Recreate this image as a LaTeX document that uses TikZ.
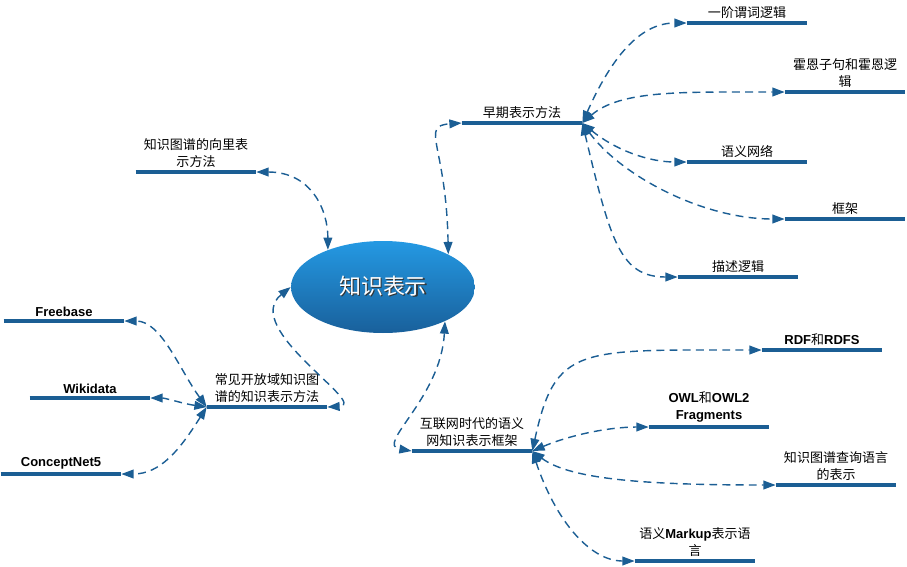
\documentclass[tikz,border=0pt]{standalone}
\usepackage{fontspec}
\setmainfont{Noto Sans CJK SC}
\newfontfamily\latin{Liberation Sans}
\usetikzlibrary{arrows.meta,shapes.geometric}
\definecolor{kblue}{RGB}{27,94,148}
\definecolor{ktop}{RGB}{36,153,227}
\definecolor{kbottom}{RGB}{25,96,155}
\newcommand{\en}[1]{{\latin\bfseries #1}}
\newcommand{\shadowed}[1]{\rlap{\hspace{0.7pt}\raisebox{-0.7pt}{\color{black!80}#1}}#1}
\tikzstyle{bar}=[draw=kblue,line width=2.3pt]
\tikzstyle{topic}=[anchor=south,minimum width=2.4cm,inner xsep=0pt,inner ysep=2.3pt,align=center,font=\fontsize{7.4}{9.6}\selectfont,append after command={(\tikzlastnode.south west) edge[bar] (\tikzlastnode.south east)}]
\tikzstyle{link}=[draw=kblue,line width=0.8pt,dash pattern=on 4.5pt off 3pt,<->]
\tikzstyle{root}=[ellipse,minimum width=3.68cm,minimum height=1.84cm,inner sep=0pt,top color=ktop,bottom color=kbottom,text=white,font=\fontsize{12.5}{14}\selectfont]

\begin{document}
\begin{tikzpicture}[x=0.02cm,y=-0.02cm,>={Triangle[length=7pt,width=5pt]}]
\useasboundingbox (0,0) rectangle (907,566);
\node[root] (root) at (383,287) {\shadowed{知识表示}};
\node[topic] (early) at (522,123) {早期表示方法};
\node[topic] (e1) at (747,23) {一阶谓词逻辑};
\node[topic] (e2) at (845,92) {霍恩子句和霍恩逻\\辑};
\node[topic] (e3) at (747,162) {语义网络};
\node[topic] (e4) at (845,219) {框架};
\node[topic] (e5) at (738,277) {描述逻辑};
\node[topic] (vec) at (196,172) {知识图谱的向里表\\示方法};
\node[topic] (open) at (267,407) {常见开放域知识图\\谱的知识表示方法};
\node[topic] (fb) at (64,321) {\en{Freebase}};
\node[topic] (wd) at (90,398) {\en{Wikidata}};
\node[topic] (cn) at (61,474) {\en{ConceptNet5}};
\node[topic] (web) at (472,451) {互联网时代的语义\\网知识表示框架};
\node[topic] (rdf) at (822,350) {\en{RDF}和\en{RDFS}};
\node[topic] (owl) at (709,427) {\en{OWL}和\en{OWL2}\\\en{Fragments}};
\node[topic] (query) at (836,485) {知识图谱查询语言\\的表示};
\node[topic] (markup) at (695,561) {语义\en{Markup}表示语\\言};
\draw[link] (root.north east) .. controls +(-2,-110) and +(-42,3) .. (early.south west);
\draw[link] (vec.south east) .. controls +(55,0) and +(0,-40) .. (root.146);
\draw[link] (root.331) .. controls +(-4,77) and +(-37,-6) .. (web.south west);
\draw[link] (root.west) .. controls +(-51,41) and +(43,-2) .. (open.south east);
\draw[link] (early.south east) .. controls +(28,-63) and +(-48,0) .. (e1.south west);
\draw[link] (early.south east) .. controls +(38,-33) and +(-103,0) .. (e2.south west);
\draw[link] (early.south east) .. controls +(33,27) and +(-38,0) .. (e3.south west);
\draw[link] (early.south east) .. controls +(38,52) and +(-83,0) .. (e4.south west);
\draw[link] (early.south east) .. controls +(28,117) and +(-58,0) .. (e5.south west);
\draw[link] (open.south west) .. controls +(-27,-37) and +(37,0) .. (fb.south east);
\draw[link] (open.south west) .. controls +(-22,-3) and +(15,0) .. (wd.south east);
\draw[link] (open.south west) .. controls +(-27,43) and +(39,0) .. (cn.south east);
\draw[link] (web.south east) .. controls +(23,-106) and +(-183,0) .. (rdf.south west);
\draw[link] (web.south east) .. controls +(38,-16) and +(-40,0) .. (owl.south west);
\draw[link] (web.south east) .. controls +(38,29) and +(-125,0) .. (query.south west);
\draw[link] (web.south east) .. controls +(23,69) and +(-45,0) .. (markup.south west);
\end{tikzpicture}
\end{document}
